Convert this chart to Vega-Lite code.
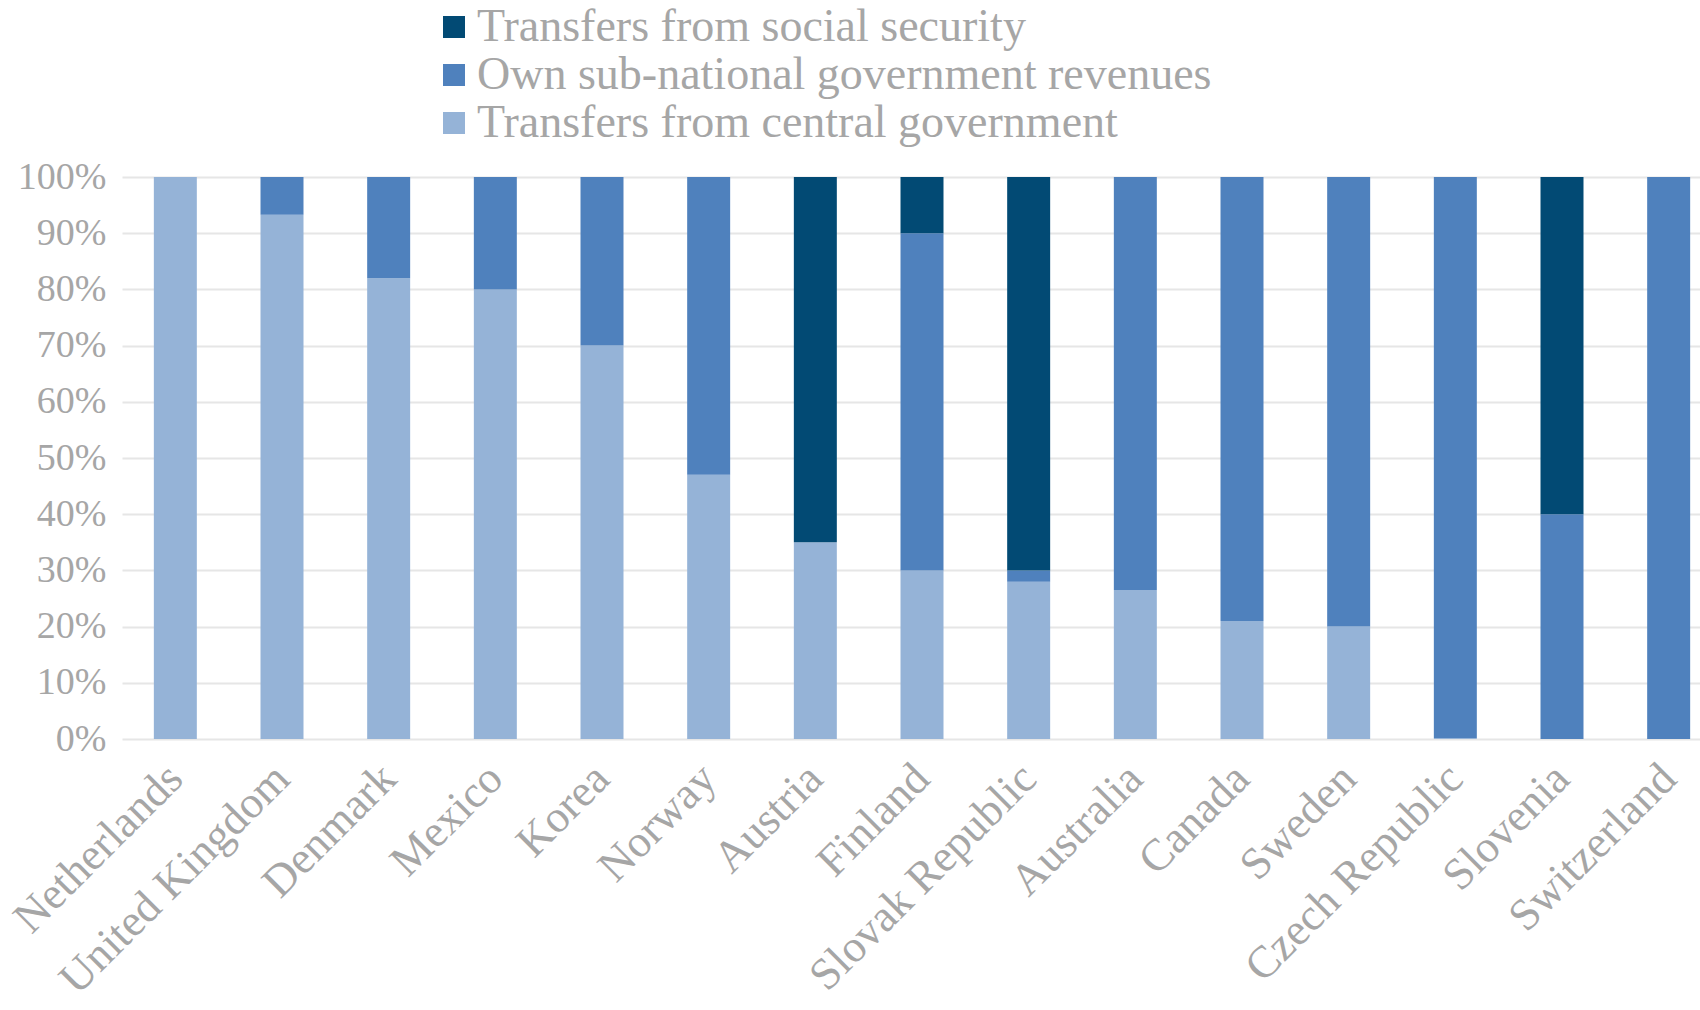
{
  "$schema": "https://vega.github.io/schema/vega-lite/v6.json",
  "autosize": {"type": "none"},
  "padding": {"left": 122, "top": 177, "right": 0, "bottom": 271},
  "width": 1578,
  "height": 562,
  "background": "white",
  "data": {
    "values": [
      {"country": "Netherlands", "type": "Transfers from central government", "share": 1.0},
      {"country": "United Kingdom", "type": "Transfers from central government", "share": 0.933},
      {"country": "United Kingdom", "type": "Own sub-national government revenues", "share": 0.067},
      {"country": "Denmark", "type": "Transfers from central government", "share": 0.82},
      {"country": "Denmark", "type": "Own sub-national government revenues", "share": 0.18},
      {"country": "Mexico", "type": "Transfers from central government", "share": 0.80},
      {"country": "Mexico", "type": "Own sub-national government revenues", "share": 0.20},
      {"country": "Korea", "type": "Transfers from central government", "share": 0.70},
      {"country": "Korea", "type": "Own sub-national government revenues", "share": 0.30},
      {"country": "Norway", "type": "Transfers from central government", "share": 0.47},
      {"country": "Norway", "type": "Own sub-national government revenues", "share": 0.53},
      {"country": "Austria", "type": "Transfers from central government", "share": 0.35},
      {"country": "Austria", "type": "Transfers from social security", "share": 0.65},
      {"country": "Finland", "type": "Transfers from central government", "share": 0.30},
      {"country": "Finland", "type": "Own sub-national government revenues", "share": 0.60},
      {"country": "Finland", "type": "Transfers from social security", "share": 0.10},
      {"country": "Slovak Republic", "type": "Transfers from central government", "share": 0.28},
      {"country": "Slovak Republic", "type": "Own sub-national government revenues", "share": 0.02},
      {"country": "Slovak Republic", "type": "Transfers from social security", "share": 0.70},
      {"country": "Australia", "type": "Transfers from central government", "share": 0.265},
      {"country": "Australia", "type": "Own sub-national government revenues", "share": 0.735},
      {"country": "Canada", "type": "Transfers from central government", "share": 0.21},
      {"country": "Canada", "type": "Own sub-national government revenues", "share": 0.79},
      {"country": "Sweden", "type": "Transfers from central government", "share": 0.20},
      {"country": "Sweden", "type": "Own sub-national government revenues", "share": 0.80},
      {"country": "Czech Republic", "type": "Transfers from central government", "share": 0.002},
      {"country": "Czech Republic", "type": "Own sub-national government revenues", "share": 0.998},
      {"country": "Slovenia", "type": "Own sub-national government revenues", "share": 0.40},
      {"country": "Slovenia", "type": "Transfers from social security", "share": 0.60},
      {"country": "Switzerland", "type": "Own sub-national government revenues", "share": 1.0}
    ]
  },
  "transform": [
    {"calculate": "indexof(['Transfers from central government','Own sub-national government revenues','Transfers from social security'], datum.type)", "as": "ord"}
  ],
  "mark": {"type": "bar"},
  "encoding": {
    "x": {
      "field": "country",
      "type": "nominal",
      "sort": null,
      "title": null,
      "scale": {"range": [0, 1600], "paddingInner": 0.597, "paddingOuter": 0.2985},
      "axis": {
        "labelAngle": -45,
        "labelAlign": "right",
        "labelBaseline": "middle",
        "labelFont": "Liberation Serif",
        "labelFontSize": 45,
        "labelColor": "#A6A6A6",
        "labelPadding": 32,
        "labelLimit": 0,
        "ticks": false,
        "domain": false,
        "grid": false,
        "labelOverlap": false,
        "labelBound": false
      }
    },
    "y": {
      "field": "share",
      "type": "quantitative",
      "stack": "zero",
      "title": null,
      "scale": {"domain": [0, 1], "nice": false},
      "axis": {
        "values": [0, 0.1, 0.2, 0.3, 0.4, 0.5, 0.6, 0.7, 0.8, 0.9, 1.0],
        "format": ".0%",
        "labelFont": "Liberation Serif",
        "labelFontSize": 38,
        "labelColor": "#A6A6A6",
        "labelPadding": 16,
        "ticks": false,
        "domain": false,
        "grid": true,
        "gridColor": "#E6E6E6",
        "gridWidth": 2
      }
    },
    "color": {
      "field": "type",
      "type": "nominal",
      "title": null,
      "scale": {
        "domain": ["Transfers from social security", "Own sub-national government revenues", "Transfers from central government"],
        "range": ["#024A74", "#4F81BD", "#95B3D7"]
      },
      "legend": {
        "orient": "none",
        "legendX": 309,
        "legendY": -173,
        "padding": 0,
        "symbolType": "square",
        "symbolSize": 484,
        "symbolStrokeWidth": 0,
        "labelFont": "Liberation Serif",
        "labelFontSize": 46,
        "labelColor": "#A6A6A6",
        "labelOffset": 0,
        "labelLimit": 0,
        "rowPadding": 2
      }
    },
    "order": {"field": "ord", "type": "quantitative", "sort": "ascending"}
  },
  "config": {"view": {"stroke": null}}
}
